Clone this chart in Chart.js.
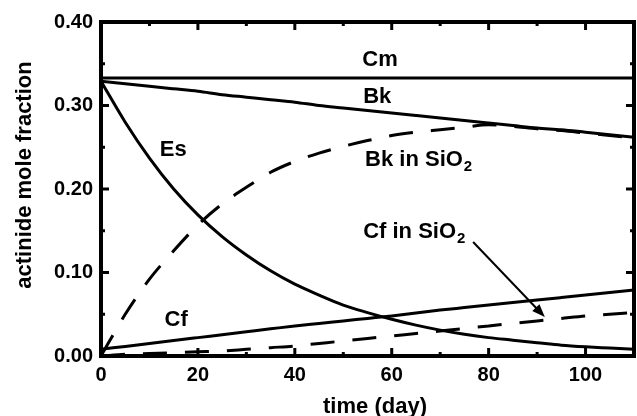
<!DOCTYPE html>
<html><head><meta charset="utf-8">
<script src="https://cdn.jsdelivr.net/npm/chart.js@4"></script>
<style>html,body{margin:0;padding:0;background:#fff}#wrap{width:637px;height:416px}</style>
</head><body><div id="wrap"><canvas id="c" width="637" height="416"></canvas></div>
<script>
// ---- data ----
const days = [0,5,10,15,20,25,30,35,40,45,50,55,60,65,70,75,80,85,90,95,100,105,110];
const cm   = [0.333,0.333,0.333,0.333,0.333,0.333,0.333,0.333,0.333,0.333,0.333,0.333,0.333,0.333,0.333,0.333,0.333,0.333,0.333,0.333,0.333,0.333,0.333];
const bk   = [0.329,0.326,0.323,0.320,0.317,0.313,0.310,0.307,0.304,0.300,0.297,0.294,0.291,0.288,0.285,0.282,0.279,0.276,0.273,0.271,0.268,0.265,0.262];
const es   = [0.329,0.280,0.237,0.200,0.169,0.143,0.121,0.102,0.086,0.073,0.061,0.052,0.044,0.037,0.031,0.026,0.022,0.019,0.016,0.013,0.011,0.0095,0.008];
const cf   = [0.008,0.0115,0.015,0.0185,0.022,0.0255,0.029,0.0325,0.036,0.039,0.042,0.045,0.048,0.0515,0.055,0.058,0.061,0.064,0.067,0.070,0.073,0.076,0.079];
const bkSiO2 = [0,0.050,0.092,0.126,0.157,0.182,0.202,0.220,0.233,0.243,0.251,0.258,0.264,0.268,0.271,0.274,0.277,0.275,0.272,0.270,0.267,0.264,0.261];
const cfSiO2 = [0,0.002,0.003,0.004,0.005,0.006,0.008,0.010,0.012,0.015,0.018,0.021,0.024,0.027,0.030,0.033,0.036,0.039,0.042,0.045,0.048,0.050,0.052];
const xTicks = [0,20,40,60,80,100];
const xMinor = [10,30,50,70,90];
const yTicks = [0,0.1,0.2,0.3,0.4];
const yMinor = [0.05,0.15,0.25,0.35];

const FONT = '"Liberation Sans", Arial, Helvetica, sans-serif';
function pts(ys){ return days.map((d,i)=>({x:d,y:ys[i]})); }
function mk(label, ys, dashed){
  return {label, data: pts(ys), borderColor:'#000', backgroundColor:'#000', borderWidth:3,
    borderDash: dashed ? [24,18] : [], pointRadius:0, fill:false, tension:0.4,
    cubicInterpolationMode:'monotone'};
}

const deco = {
  id:'deco',
  afterDatasetsDraw(chart){
    const {ctx, chartArea:a, scales:{x, y}} = chart;
    ctx.save();
    ctx.strokeStyle = '#000'; ctx.fillStyle = '#000';
    ctx.lineWidth = 4;
    ctx.strokeRect(a.left, a.top, a.right - a.left, a.bottom - a.top);
    ctx.lineWidth = 3;
    const seg = (x1,y1,x2,y2)=>{ctx.beginPath();ctx.moveTo(x1,y1);ctx.lineTo(x2,y2);ctx.stroke();};
    xTicks.forEach(v=>{const p=x.getPixelForValue(v); seg(p,a.bottom,p,a.bottom-8); seg(p,a.top,p,a.top+8);});
    xMinor.forEach(v=>{const p=x.getPixelForValue(v); seg(p,a.bottom,p,a.bottom-4); seg(p,a.top,p,a.top+4);});
    yTicks.forEach(v=>{const p=y.getPixelForValue(v); seg(a.left,p,a.left+8,p); seg(a.right,p,a.right-8,p);});
    yMinor.forEach(v=>{const p=y.getPixelForValue(v); seg(a.left,p,a.left+4,p); seg(a.right,p,a.right-4,p);});

    // labels
    const big = 'bold 22px ' + FONT, small = 'bold 15px ' + FONT;
    ctx.font = big; ctx.textBaseline = 'middle';
    const center = (t, dx, dy)=>{ctx.textAlign='center'; ctx.fillText(t, x.getPixelForValue(dx), y.getPixelForValue(dy));};
    center('Cm', 57.6, 0.3545);
    center('Bk', 57.0, 0.310);
    center('Es', 14.9, 0.2467);
    center('Cf', 15.5, 0.0431);
    const sub = (t, dx, dy)=>{
      ctx.textAlign='left'; ctx.font = big;
      const px = x.getPixelForValue(dx), py = y.getPixelForValue(dy);
      ctx.fillText(t, px, py);
      const w = ctx.measureText(t).width;
      ctx.font = small; ctx.fillText('2', px + w + 1, py + 7);
      ctx.font = big;
    };
    sub('Bk in SiO', 54.5, 0.2347);
    sub('Cf in SiO', 54.1, 0.1485);

    // arrow
    const x1 = x.getPixelForValue(76.8), y1 = y.getPixelForValue(0.1365);
    const x2 = x.getPixelForValue(91.6), y2 = y.getPixelForValue(0.0467);
    const ang = Math.atan2(y2-y1, x2-x1);
    ctx.lineWidth = 2;
    seg(x1, y1, x2 - 8*Math.cos(ang), y2 - 8*Math.sin(ang));
    ctx.beginPath();
    ctx.moveTo(x2, y2);
    ctx.lineTo(x2 - 13*Math.cos(ang) + 5*Math.sin(ang), y2 - 13*Math.sin(ang) - 5*Math.cos(ang));
    ctx.lineTo(x2 - 13*Math.cos(ang) - 5*Math.sin(ang), y2 - 13*Math.sin(ang) + 5*Math.cos(ang));
    ctx.closePath(); ctx.fill();

    // axis titles
    ctx.font = big; ctx.textAlign = 'center'; ctx.textBaseline = 'alphabetic';
    ctx.fillText('time (day)', 375, 413);
    ctx.translate(31, 175); ctx.rotate(-Math.PI/2);
    ctx.fillText('actinide mole fraction', 0, 0);
    ctx.restore();
  }
};

new Chart(document.getElementById('c'), {
  type:'line',
  data:{ datasets:[
    mk('Cm', cm, false),
    mk('Bk', bk, false),
    mk('Es', es, false),
    mk('Cf', cf, false),
    mk('Bk in SiO2', bkSiO2, true),
    mk('Cf in SiO2', cfSiO2, true)
  ]},
  options:{
    responsive:false, animation:false, devicePixelRatio:1,
    layout:{padding:{top:22, right:3, left:0, bottom:0}},
    plugins:{legend:{display:false}, tooltip:{enabled:false}},
    scales:{
      x:{ type:'linear', min:0, max:110,
        grid:{display:false, drawTicks:false}, border:{display:false},
        ticks:{padding:7, color:'#000', maxRotation:0, autoSkip:false,
          font:{family:FONT, weight:'bold', size:20}},
        afterBuildTicks:s=>{ s.ticks = xTicks.map(v=>({value:v})); },
        afterFit:s=>{ s.height = 60; } },
      y:{ type:'linear', min:0, max:0.4,
        grid:{display:false, drawTicks:false}, border:{display:false},
        ticks:{padding:8, color:'#000', autoSkip:false,
          font:{family:FONT, weight:'bold', size:20},
          callback:v=>Number(v).toFixed(2)},
        afterBuildTicks:s=>{ s.ticks = yTicks.map(v=>({value:v})); },
        afterFit:s=>{ s.width = 101; } }
    }
  },
  plugins:[deco]
});
</script></body></html>
